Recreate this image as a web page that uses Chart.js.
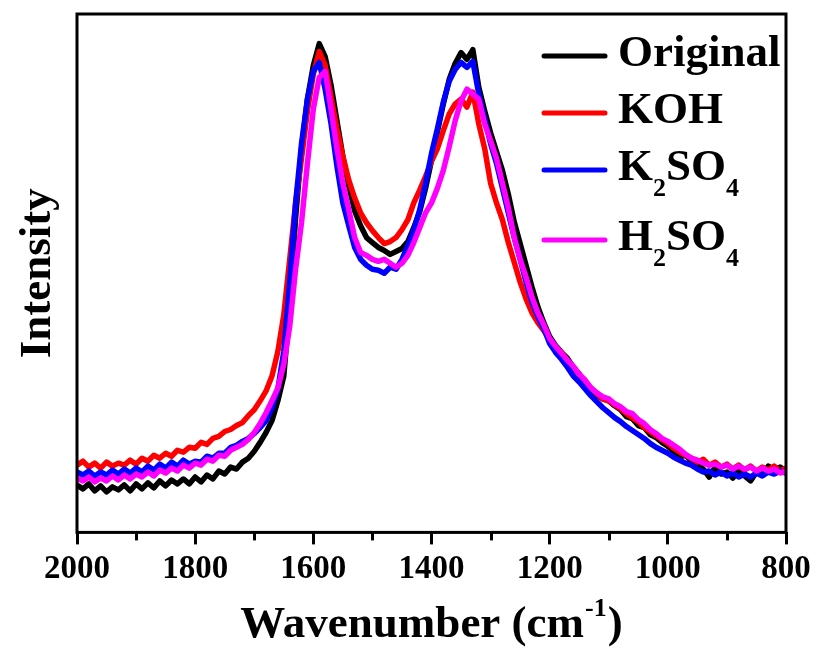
<!DOCTYPE html>
<html>
<head>
<meta charset="utf-8">
<script src="https://cdn.jsdelivr.net/npm/chart.js@4.4.1/dist/chart.umd.min.js"></script>
<style>
  html, body { margin: 0; padding: 0; background: #ffffff; }
  #wrap { width: 817px; height: 649px; }
</style>
</head>
<body>
<div id="wrap"><canvas id="c" width="817" height="649"></canvas></div>
<script>
// ---- Data ----
const wavenumbers = [
  2000,1990,1980,1970,1960,1950,1940,1930,1920,1910,
  1900,1890,1880,1870,1860,1850,1840,1830,1820,1810,
  1800,1790,1780,1770,1760,1750,1740,1730,1720,1710,
  1700,1690,1680,1670,1660,1650,1640,1630,1620,1610,
  1600,1590,1580,1570,1560,1550,1540,1530,1520,1510,
  1500,1490,1480,1470,1460,1450,1440,1430,1420,1410,
  1400,1390,1380,1370,1360,1350,1340,1330,1320,1310,
  1300,1290,1280,1270,1260,1250,1240,1230,1220,1210,
  1200,1190,1180,1170,1160,1150,1140,1130,1120,1110,
  1100,1090,1080,1070,1060,1050,1040,1030,1020,1010,
  1000,990,980,970,960,950,940,930,920,910,
  900,890,880,870,860,850,840,830,820,810,800
];

const original = [
  48,44,49,42,47,41,46,43,48,42,
  49,44,50,45,52,47,53,49,54,49,
  56,51,58,54,62,59,66,64,71,75,
  82,91,101,113,133,158,228,318,388,438,
  472,494,481,452,416,380,350,325,310,298,
  293,288,285,281,284,287,294,308,324,348,
  376,405,433,458,474,485,478,488,450,426,
  404,385,366,342,314,292,270,248,228,212,
  198,189,182,176,167,160,152,145,139,135,
  133,128,124,117,115,108,106,99,96,91,
  87,82,76,78,72,69,64,56,66,59,
  61,55,63,57,52,61,59,67,63,66,62
];

const koh = [
  68,72,66,70,65,71,67,70,68,73,
  69,75,72,78,75,80,77,83,81,86,
  85,91,89,95,97,102,104,108,111,118,
  124,133,143,158,183,220,276,333,378,426,
  463,486,472,440,408,380,356,338,323,313,
  305,298,292,294,298,306,316,333,346,360,
  375,388,406,423,433,438,430,445,413,388,
  353,333,316,293,273,253,236,222,212,204,
  195,186,182,174,165,160,150,146,140,135,
  133,129,125,120,116,112,106,102,98,94,
  90,85,81,78,75,71,74,68,71,66,
  69,64,68,63,67,62,66,63,67,62,65
];

const k2so4 = [
  61,58,62,57,61,58,63,59,64,60,
  65,61,67,63,69,65,71,67,73,69,
  72,71,77,75,80,80,86,88,92,95,
  100,106,113,126,145,183,253,333,393,438,
  466,475,448,413,370,333,310,288,276,270,
  266,265,262,268,266,276,290,306,326,353,
  383,408,435,456,468,475,470,476,443,418,
  393,373,348,323,298,276,253,233,218,206,
  191,182,175,167,158,152,145,138,132,126,
  121,116,112,107,103,99,95,90,86,83,
  80,76,73,70,68,64,61,62,58,61,
  57,60,56,59,56,60,57,61,59,62,60
];

const h2so4 = [
  55,52,56,51,55,52,57,53,58,54,
  59,56,61,57,63,60,65,62,68,65,
  70,68,74,72,78,77,83,86,89,94,
  101,110,121,133,146,170,208,266,313,373,
  428,460,466,428,388,353,326,298,283,280,
  276,274,276,272,268,272,280,293,308,323,
  333,348,366,390,416,436,448,443,438,413,
  396,378,353,328,298,276,258,238,222,210,
  196,188,181,174,168,160,154,146,141,137,
  135,130,127,122,120,114,110,104,100,95,
  92,88,84,79,75,73,70,68,69,66,
  68,64,67,64,66,62,65,62,64,60,62
];

const seriesLabels = ['Original', 'KOH', 'K_2SO_4', 'H_2SO_4'];
const seriesColors = ['#000000', '#ff0000', '#0000ff', '#ff00ff'];
const xTickValues = [2000, 1800, 1600, 1400, 1200, 1000, 800];
const xMinorTickValues = [1900, 1700, 1500, 1300, 1100, 900];
const xTitle = ['Wavenumber (cm', '-1', ')'];
const yTitle = 'Intensity';

// ---- Build chart ----
const FONT = "'Liberation Serif', 'Times New Roman', serif";
const seriesValues = [original, koh, k2so4, h2so4];
const drawOrder = [4, 3, 2, 1]; // magenta on top, black at bottom

const datasets = seriesValues.map((vals, i) => ({
  label: seriesLabels[i].replace(/_/g, ''),
  data: wavenumbers.map((w, j) => ({ x: w, y: vals[j] })),
  borderColor: seriesColors[i],
  backgroundColor: seriesColors[i],
  borderWidth: 5.5,
  pointRadius: 0,
  tension: 0,
  fill: false,
  order: drawOrder[i]
}));

function drawRuns(ctx, text, x, baseline, size, subSize, subDrop) {
  // "_c" marks a subscript character
  let cx = x;
  let i = 0;
  while (i < text.length) {
    if (text[i] === '_' && i + 1 < text.length) {
      ctx.font = 'bold ' + subSize + 'px ' + FONT;
      ctx.fillText(text[i + 1], cx, baseline + subDrop);
      cx += ctx.measureText(text[i + 1]).width;
      i += 2;
    } else {
      let j = i;
      while (j < text.length && text[j] !== '_') j++;
      const run = text.slice(i, j);
      ctx.font = 'bold ' + size + 'px ' + FONT;
      ctx.fillText(run, cx, baseline);
      cx += ctx.measureText(run).width;
      i = j;
    }
  }
}

const decorPlugin = {
  id: 'decor',
  afterDatasetsDraw(chart) {
    const { ctx, chartArea: a, scales } = chart;
    ctx.save();
    // frame
    ctx.strokeStyle = '#000';
    ctx.lineWidth = 3;
    ctx.strokeRect(a.left, a.top, a.right - a.left, a.bottom - a.top);
    // minor ticks
    ctx.lineWidth = 3;
    xMinorTickValues.forEach(v => {
      const px = Math.round(scales.x.getPixelForValue(v)) + 0.5;
      ctx.beginPath();
      ctx.moveTo(px, a.bottom);
      ctx.lineTo(px, a.bottom + 8);
      ctx.stroke();
    });
    // legend
    const baselines = [66, 123, 180, 250];
    ctx.fillStyle = '#000';
    ctx.textBaseline = 'alphabetic';
    ctx.textAlign = 'left';
    seriesLabels.forEach((lab, i) => {
      const by = baselines[i];
      ctx.strokeStyle = seriesColors[i];
      ctx.lineWidth = 5;
      ctx.lineCap = 'round';
      ctx.beginPath();
      ctx.moveTo(544, by - 10);
      ctx.lineTo(605, by - 10);
      ctx.stroke();
      ctx.fillStyle = '#000';
      drawRuns(ctx, lab, 618, by, 45, 26, 16);
    });
    // x title with superscript
    const size = 45, supSize = 26;
    ctx.font = 'bold ' + size + 'px ' + FONT;
    const w1 = ctx.measureText(xTitle[0]).width;
    const w3 = ctx.measureText(xTitle[2]).width;
    ctx.font = 'bold ' + supSize + 'px ' + FONT;
    const w2 = ctx.measureText(xTitle[1]).width;
    const total = w1 + w2 + w3 + 2;
    let sx = (a.left + a.right) / 2 - total / 2;
    const base = 637;
    ctx.font = 'bold ' + size + 'px ' + FONT;
    ctx.fillText(xTitle[0], sx, base);
    sx += w1 + 1;
    ctx.font = 'bold ' + supSize + 'px ' + FONT;
    ctx.fillText(xTitle[1], sx, base - 21);
    sx += w2 + 1;
    ctx.font = 'bold ' + size + 'px ' + FONT;
    ctx.fillText(xTitle[2], sx, base);
    ctx.restore();
  }
};

new Chart(document.getElementById('c'), {
  type: 'line',
  data: { datasets },
  options: {
    responsive: false,
    animation: false,
    devicePixelRatio: 1,
    layout: { padding: { left: 11, right: 31, top: 14, bottom: 55 } },
    plugins: { legend: { display: false }, tooltip: { enabled: false } },
    elements: { point: { radius: 0 }, line: { borderJoinStyle: 'round', borderCapStyle: 'round' } },
    scales: {
      x: {
        type: 'linear',
        reverse: true,
        min: 800,
        max: 2000,
        afterBuildTicks: (s) => { s.ticks = xTickValues.map(v => ({ value: v })); },
        ticks: {
          autoSkip: false,
          maxRotation: 0,
          padding: 5,
          color: '#000',
          font: { family: FONT, size: 33, weight: 'bold' },
          callback: (v) => String(v)
        },
        grid: {
          display: true,
          drawOnChartArea: false,
          drawTicks: true,
          tickLength: 12,
          tickWidth: 3,
          tickColor: '#000'
        },
        border: { display: false }
      },
      y: {
        min: 0,
        max: 524,
        ticks: { display: false },
        grid: { display: false, drawTicks: false },
        border: { display: false },
        title: {
          display: true,
          text: yTitle,
          color: '#000',
          font: { family: FONT, size: 45, weight: 'bold' },
          padding: { top: 0, bottom: 12 }
        }
      }
    }
  },
  plugins: [decorPlugin]
});
</script>
</body>
</html>
